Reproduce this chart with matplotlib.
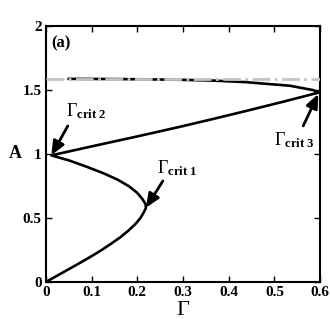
import numpy as np
import matplotlib
matplotlib.use("Agg")
import matplotlib.pyplot as plt

# branch points (Gamma, A), one continuous curve
gamma_low = [0, 0.025, 0.05, 0.075, 0.099, 0.122, 0.143, 0.163, 0.18, 0.195, 0.207,
             0.215, 0.219, 0.218, 0.211, 0.199, 0.181, 0.157, 0.126, 0.09, 0.051, 0.012]
amp_low = [0, 0.05, 0.1, 0.15, 0.2, 0.25, 0.3, 0.35, 0.4, 0.45, 0.5,
           0.55, 0.58, 0.61, 0.65, 0.7, 0.75, 0.8, 0.85, 0.9, 0.95, 0.99]

gamma_mid = [0.012, 0.1, 0.2, 0.293, 0.37, 0.439, 0.52, 0.596]
amp_mid = [0.99, 1.06, 1.138, 1.213, 1.278, 1.338, 1.41, 1.48]

gamma_up = [0.596, 0.585, 0.534, 0.439, 0.37, 0.293, 0.2, 0.12, 0.05]
amp_up = [1.48, 1.5, 1.534, 1.562, 1.574, 1.581, 1.585, 1.587, 1.588]

asymptote = 1.59

gamma = gamma_low + gamma_mid[1:] + gamma_up[1:]
amp = amp_low + amp_mid[1:] + amp_up[1:]

plt.rcParams['font.family'] = ['Liberation Serif', 'DejaVu Serif']
plt.rcParams['mathtext.fontset'] = 'custom'
plt.rcParams['mathtext.rm'] = 'Liberation Serif'
plt.rcParams['mathtext.bf'] = 'Liberation Serif:bold'
plt.rcParams['mathtext.it'] = 'Liberation Serif:italic'

fig = plt.figure(figsize=(3.3, 3.19), dpi=100)
ax = fig.add_axes([0.139, 0.116, 0.831, 0.802])

ax.plot(gamma, amp, color='black', lw=1.9, zorder=2)
ax.axhline(asymptote, color='#c4c4c4', lw=2, ls='-.', zorder=3)

ax.set_xlim(0, 0.6)
ax.set_ylim(0, 2)
ax.set_xticks([0, 0.1, 0.2, 0.3, 0.4, 0.5, 0.6])
ax.set_xticklabels(['0', '0.1', '0.2', '0.3', '0.4', '0.5', '0.6'])
ax.set_yticks([0, 0.5, 1, 1.5, 2])
ax.set_yticklabels(['0', '0.5', '1', '1.5', '2'])
ax.tick_params(direction='in', length=4, width=1, top=True, right=True,
               labelsize=11, pad=3)
for lab in ax.get_xticklabels() + ax.get_yticklabels():
    lab.set_fontweight('bold')
for sp in ax.spines.values():
    sp.set_linewidth(1.5)

ax.set_xlabel(r'$\Gamma$', fontsize=16, labelpad=1)
fig.text(0.045, 0.52, 'A', fontsize=13, fontweight='bold', ha='center', va='center')
ax.text(0.012, 1.93, '(a)', fontsize=12, fontweight='bold', va='top')

arrow = dict(arrowstyle='-|>,head_length=0.7,head_width=0.3', color='black',
             lw=2, mutation_scale=12, shrinkA=0, shrinkB=0)
ax.text(0.043, 1.26, r'$\Gamma_{\mathbf{crit\ 2}}$', fontsize=13, ha='left', va='bottom')
ax.annotate('', xy=(0.012, 0.99), xytext=(0.048, 1.22), arrowprops=arrow)
ax.text(0.243, 0.81, r'$\Gamma_{\mathbf{crit\ 1}}$', fontsize=13, ha='left', va='bottom')
ax.annotate('', xy=(0.219, 0.58), xytext=(0.256, 0.79), arrowprops=arrow)
ax.text(0.5, 1.03, r'$\Gamma_{\mathbf{crit\ 3}}$', fontsize=13, ha='left', va='bottom')
ax.annotate('', xy=(0.596, 1.47), xytext=(0.563, 1.22), arrowprops=arrow)

fig.savefig('out.png', dpi=100)
